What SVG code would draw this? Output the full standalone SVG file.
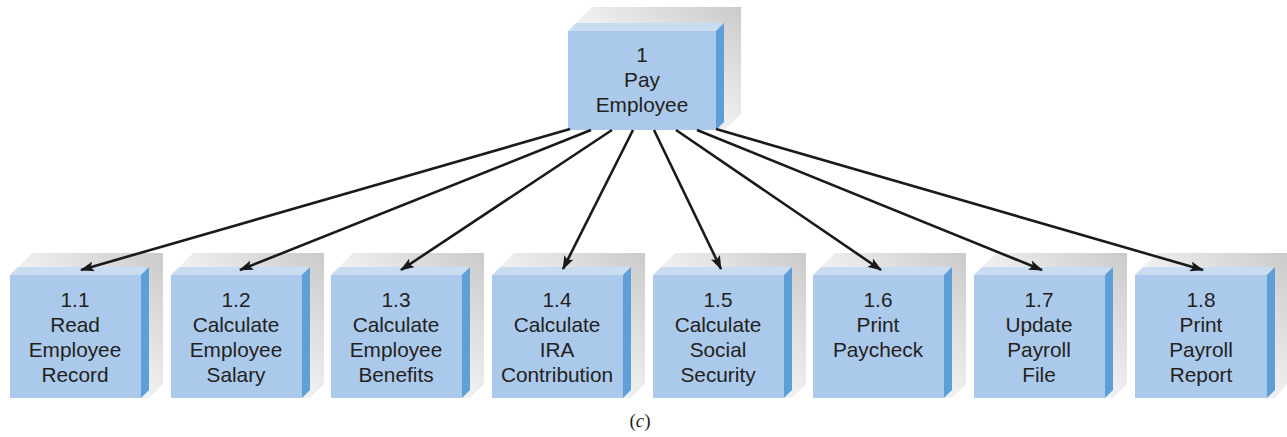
<svg xmlns="http://www.w3.org/2000/svg" width="1287" height="437" viewBox="0 0 1287 437">
<defs>
<linearGradient id="sh" x1="0" y1="1" x2="1" y2="0">
<stop offset="0" stop-color="#ffffff"/>
<stop offset="0.5" stop-color="#eeeeee"/>
<stop offset="1" stop-color="#cacaca"/>
</linearGradient>
<marker id="ah" markerWidth="14" markerHeight="10" refX="13" refY="5" orient="auto" markerUnits="userSpaceOnUse">
<path d="M0,0 L14,5 L0,10 L3,5 Z" fill="#1a1a1a"/>
</marker>
</defs>
<style>
.sh{fill:url(#sh)}
.fr{fill:#abc9ea}
.tp{fill:#cadcf1}
.sd{fill:#5f9fd8}
.t{font-family:"Liberation Sans",Arial,sans-serif;font-size:20.8px;fill:#231f20;text-anchor:middle}
.c{stroke:#1a1a1a;stroke-width:2.6;fill:none;marker-end:url(#ah)}
</style>
<rect width="1287" height="437" fill="#fff"/>
<g id="n1">
<polygon class="sh" points="576,23 592,7 741,7 741,114 724,130 716,130 716,31"/>
<polygon class="tp" points="568,31 576,23 724,23 716,31"/>
<polygon class="sd" points="716,31 724,23 724,122 716,130"/>
<rect class="fr" x="568" y="31" width="148" height="99"/>
<text class="t" x="642" y="62">1</text>
<text class="t" x="642" y="87">Pay</text>
<text class="t" x="642" y="112">Employee</text>
</g>
<g id="n1_1">
<polygon class="sh" points="18,267 32,253 163,253 163,384 149,398 141,398 141,275"/>
<polygon class="tp" points="10,275 18,267 149,267 141,275"/>
<polygon class="sd" points="141,275 149,267 149,390 141,398"/>
<rect class="fr" x="10" y="275" width="131" height="123"/>
<text class="t" x="75" y="307">1.1</text><text class="t" x="75" y="332">Read</text><text class="t" x="75" y="357">Employee</text><text class="t" x="75" y="382">Record</text>
</g>
<g id="n1_2">
<polygon class="sh" points="179,267 193,253 324,253 324,384 310,398 302,398 302,275"/>
<polygon class="tp" points="171,275 179,267 310,267 302,275"/>
<polygon class="sd" points="302,275 310,267 310,390 302,398"/>
<rect class="fr" x="171" y="275" width="131" height="123"/>
<text class="t" x="236" y="307">1.2</text><text class="t" x="236" y="332">Calculate</text><text class="t" x="236" y="357">Employee</text><text class="t" x="236" y="382">Salary</text>
</g>
<g id="n1_3">
<polygon class="sh" points="339,267 353,253 484,253 484,384 470,398 462,398 462,275"/>
<polygon class="tp" points="331,275 339,267 470,267 462,275"/>
<polygon class="sd" points="462,275 470,267 470,390 462,398"/>
<rect class="fr" x="331" y="275" width="131" height="123"/>
<text class="t" x="396" y="307">1.3</text><text class="t" x="396" y="332">Calculate</text><text class="t" x="396" y="357">Employee</text><text class="t" x="396" y="382">Benefits</text>
</g>
<g id="n1_4">
<polygon class="sh" points="500,267 514,253 645,253 645,384 631,398 623,398 623,275"/>
<polygon class="tp" points="492,275 500,267 631,267 623,275"/>
<polygon class="sd" points="623,275 631,267 631,390 623,398"/>
<rect class="fr" x="492" y="275" width="131" height="123"/>
<text class="t" x="557" y="307">1.4</text><text class="t" x="557" y="332">Calculate</text><text class="t" x="557" y="357">IRA</text><text class="t" x="557" y="382">Contribution</text>
</g>
<g id="n1_5">
<polygon class="sh" points="661,267 675,253 806,253 806,384 792,398 784,398 784,275"/>
<polygon class="tp" points="653,275 661,267 792,267 784,275"/>
<polygon class="sd" points="784,275 792,267 792,390 784,398"/>
<rect class="fr" x="653" y="275" width="131" height="123"/>
<text class="t" x="718" y="307">1.5</text><text class="t" x="718" y="332">Calculate</text><text class="t" x="718" y="357">Social</text><text class="t" x="718" y="382">Security</text>
</g>
<g id="n1_6">
<polygon class="sh" points="821,267 835,253 966,253 966,384 952,398 944,398 944,275"/>
<polygon class="tp" points="813,275 821,267 952,267 944,275"/>
<polygon class="sd" points="944,275 952,267 952,390 944,398"/>
<rect class="fr" x="813" y="275" width="131" height="123"/>
<text class="t" x="878" y="307">1.6</text><text class="t" x="878" y="332">Print</text><text class="t" x="878" y="357">Paycheck</text>
</g>
<g id="n1_7">
<polygon class="sh" points="982,267 996,253 1127,253 1127,384 1113,398 1105,398 1105,275"/>
<polygon class="tp" points="974,275 982,267 1113,267 1105,275"/>
<polygon class="sd" points="1105,275 1113,267 1113,390 1105,398"/>
<rect class="fr" x="974" y="275" width="131" height="123"/>
<text class="t" x="1039" y="307">1.7</text><text class="t" x="1039" y="332">Update</text><text class="t" x="1039" y="357">Payroll</text><text class="t" x="1039" y="382">File</text>
</g>
<g id="n1_8">
<polygon class="sh" points="1143,267 1157,253 1287,253 1287,384 1275,398 1267,398 1267,275"/>
<polygon class="tp" points="1135,275 1143,267 1275,267 1267,275"/>
<polygon class="sd" points="1267,275 1275,267 1275,390 1267,398"/>
<rect class="fr" x="1135" y="275" width="132" height="123"/>
<text class="t" x="1201" y="307">1.8</text><text class="t" x="1201" y="332">Print</text><text class="t" x="1201" y="357">Payroll</text><text class="t" x="1201" y="382">Report</text>
</g>
<g id="connectors">
<line class="c" x1="570" y1="129" x2="81" y2="270"/>
<line class="c" x1="591" y1="130" x2="240" y2="270"/>
<line class="c" x1="612" y1="130" x2="401" y2="270"/>
<line class="c" x1="633" y1="130" x2="563" y2="269"/>
<line class="c" x1="654" y1="130" x2="721" y2="269"/>
<line class="c" x1="676" y1="130" x2="881" y2="270"/>
<line class="c" x1="697" y1="130" x2="1042" y2="270"/>
<line class="c" x1="716" y1="129" x2="1203" y2="270"/>
</g>
<text x="640" y="427" font-family="Liberation Serif,serif" font-size="19" fill="#231f20" text-anchor="middle">(<tspan font-style="italic">c</tspan>)</text>
</svg>
